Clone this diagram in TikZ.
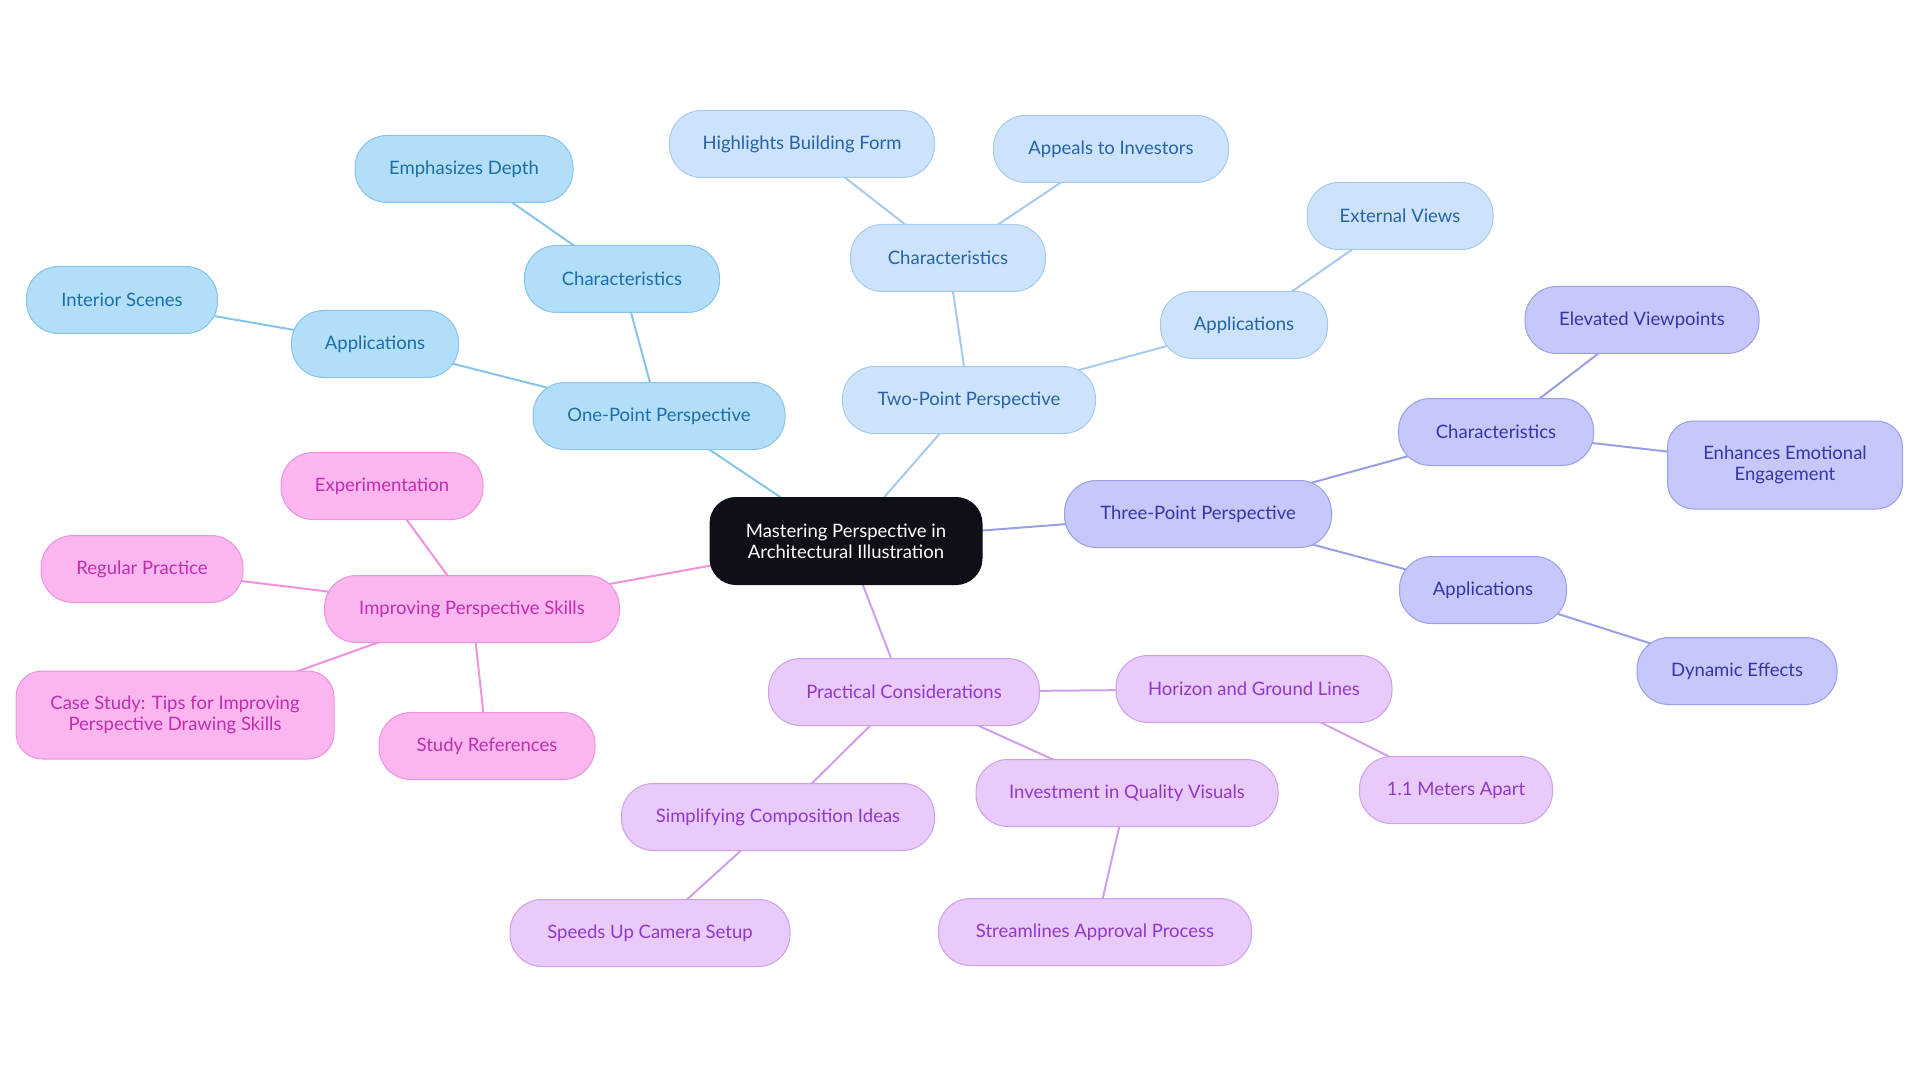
\documentclass[tikz,border=0pt]{standalone}
\usepackage{fontspec}
\setmainfont{Lato}
\usepackage{xcolor}
\usepackage{tikz}
\usetikzlibrary{positioning}
\pgfdeclarelayer{background}
\pgfsetlayers{background,main}

\definecolor{onefill}{HTML}{B3DEFA}
\definecolor{onedraw}{HTML}{86C4EC}
\definecolor{onetext}{HTML}{1A6FA8}
\definecolor{twofill}{HTML}{CDE3FB}
\definecolor{twodraw}{HTML}{A6CAEE}
\definecolor{twotext}{HTML}{2763A6}
\definecolor{threefill}{HTML}{C6C8FB}
\definecolor{threedraw}{HTML}{9A9EE8}
\definecolor{threetext}{HTML}{3535A6}
\definecolor{skillfill}{HTML}{FBB6F0}
\definecolor{skilldraw}{HTML}{EE92DE}
\definecolor{skilltext}{HTML}{BF2FAD}
\definecolor{pracfill}{HTML}{E8CAFB}
\definecolor{pracdraw}{HTML}{CDA0EE}
\definecolor{practext}{HTML}{9138C6}
\definecolor{rootfill}{HTML}{0D1117}

\begin{document}
\begin{tikzpicture}[x=1pt, y=-1pt]
\tikzstyle{topic} = [rectangle, rounded corners=32pt, align=center,
    minimum height=67pt, inner xsep=14pt, line width=1pt,
    font=\fontsize{18.5}{21}\selectfont]
\tikzstyle{root} = [topic, fill=rootfill, draw=rootfill, text=white,
    minimum width=272pt, minimum height=87pt, rounded corners=26pt]
\tikzstyle{one} = [topic, fill=onefill, draw=onedraw, text=onetext]
\tikzstyle{two} = [topic, fill=twofill, draw=twodraw, text=twotext]
\tikzstyle{three} = [topic, fill=threefill, draw=threedraw, text=threetext]
\tikzstyle{skill} = [topic, fill=skillfill, draw=skilldraw, text=skilltext]
\tikzstyle{prac} = [topic, fill=pracfill, draw=pracdraw, text=practext]
\tikzstyle{link} = [line width=2pt]

\useasboundingbox (0,0) rectangle (1920,1083);

\node (root) [root] at (846,541)
    {Mastering Perspective in\\Architectural Illustration};

% --- main branches ---
\node (onept) [one, minimum width=252pt] at (659,416) {One-Point Perspective};
\node (twopt) [two, minimum width=253pt] at (969,400) {Two-Point Perspective};
\node (threept) [three, minimum width=267pt] at (1198,514) {Three-Point Perspective};
\node (skills) [skill, minimum width=295pt] at (472,609) {Improving Perspective Skills};
\node (prac) [prac, minimum width=271pt] at (904,692) {Practical Considerations};

% --- one-point ---
\node (onechar) [one, minimum width=195pt] at (622,279) {Characteristics};
\node (oneapp) [one, minimum width=167pt] at (375,344) {Applications};
\node (depth) [one, minimum width=218pt] at (464,169) {Emphasizes Depth};
\node (interior) [one, minimum width=191pt] at (122,300) {Interior Scenes};

% --- two-point ---
\node (twochar) [two, minimum width=195pt] at (948,258) {Characteristics};
\node (twoapp) [two, minimum width=167pt] at (1244,325) {Applications};
\node (form) [two, minimum width=265pt] at (802,144) {Highlights Building Form};
\node (investors) [two, minimum width=235pt] at (1111,149) {Appeals to Investors};
\node (external) [two, minimum width=186pt] at (1400,216) {External Views};

% --- three-point ---
\node (threechar) [three, minimum width=195pt] at (1496,432) {Characteristics};
\node (threeapp) [three, minimum width=167pt] at (1483,590) {Applications};
\node (elevated) [three, minimum width=234pt] at (1642,320) {Elevated Viewpoints};
\node (emotion) [three, minimum width=235pt, minimum height=88pt,
    rounded corners=26pt] at (1785,465) {Enhances Emotional\\Engagement};
\node (dynamic) [three, minimum width=200pt] at (1737,671) {Dynamic Effects};

% --- skills ---
\node (experiment) [skill, minimum width=202pt] at (382,486) {Experimentation};
\node (practice) [skill, minimum width=202pt] at (142,569) {Regular Practice};
\node (casestudy) [skill, minimum width=318pt, minimum height=88pt,
    rounded corners=26pt] at (175,715)
    {Case Study: Tips for Improving\\Perspective Drawing Skills};
\node (references) [skill, minimum width=216pt] at (487,746) {Study References};

% --- practical ---
\node (horizon) [prac, minimum width=276pt] at (1254,689) {Horizon and Ground Lines};
\node (visuals) [prac, minimum width=302pt] at (1127,793) {Investment in Quality Visuals};
\node (compose) [prac, minimum width=313pt] at (778,817) {Simplifying Composition Ideas};
\node (meters) [prac, minimum width=193pt] at (1456,790) {1.1 Meters Apart};
\node (approval) [prac, minimum width=313pt] at (1095,932) {Streamlines Approval Process};
\node (camera) [prac, minimum width=280pt] at (650,933) {Speeds Up Camera Setup};

% --- links (centre to centre, behind the nodes) ---
\begin{pgfonlayer}{background}
\draw [link, onedraw] (root.center) -- (onept.center);
\draw [link, onedraw] (onept.center) -- (onechar.center);
\draw [link, onedraw] (onept.center) -- (oneapp.center);
\draw [link, onedraw] (onechar.center) -- (depth.center);
\draw [link, onedraw] (oneapp.center) -- (interior.center);

\draw [link, twodraw] (root.center) -- (twopt.center);
\draw [link, twodraw] (twopt.center) -- (twochar.center);
\draw [link, twodraw] (twopt.center) -- (twoapp.center);
\draw [link, twodraw] (twochar.center) -- (form.center);
\draw [link, twodraw] (twochar.center) -- (investors.center);
\draw [link, twodraw] (twoapp.center) -- (external.center);

\draw [link, threedraw] (root.center) -- (threept.center);
\draw [link, threedraw] (threept.center) -- (threechar.center);
\draw [link, threedraw] (threept.center) -- (threeapp.center);
\draw [link, threedraw] (threechar.center) -- (elevated.center);
\draw [link, threedraw] (threechar.center) -- (emotion.center);
\draw [link, threedraw] (threeapp.center) -- (dynamic.center);

\draw [link, skilldraw] (root.center) -- (skills.center);
\draw [link, skilldraw] (skills.center) -- (experiment.center);
\draw [link, skilldraw] (skills.center) -- (practice.center);
\draw [link, skilldraw] (skills.center) -- (casestudy.center);
\draw [link, skilldraw] (skills.center) -- (references.center);

\draw [link, pracdraw] (root.center) -- (prac.center);
\draw [link, pracdraw] (prac.center) -- (horizon.center);
\draw [link, pracdraw] (prac.center) -- (visuals.center);
\draw [link, pracdraw] (prac.center) -- (compose.center);
\draw [link, pracdraw] (horizon.center) -- (meters.center);
\draw [link, pracdraw] (visuals.center) -- (approval.center);
\draw [link, pracdraw] (compose.center) -- (camera.center);
\end{pgfonlayer}
\end{tikzpicture}
\end{document}
